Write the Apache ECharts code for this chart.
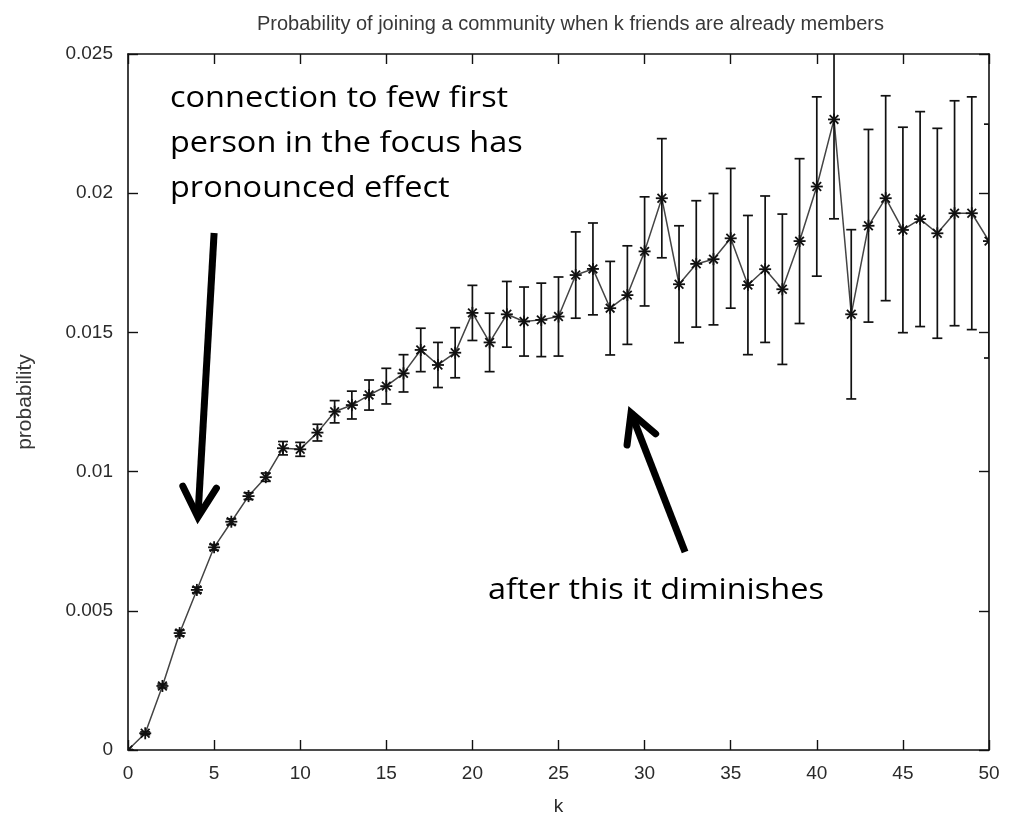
<!DOCTYPE html>
<html>
<head>
<meta charset="utf-8">
<script src="https://cdn.jsdelivr.net/npm/echarts@6/dist/echarts.min.js"></script>
<style>
  html, body { margin: 0; padding: 0; background: #fff; }
  #chart { width: 1014px; height: 817px; }
</style>
</head>
<body>
<div id="chart"></div>
<script>
// Number of friends already in the community
const kValues = [
  0, 1, 2, 3, 4, 5, 6, 7, 8, 9,
  10, 11, 12, 13, 14, 15, 16, 17, 18, 19,
  20, 21, 22, 23, 24, 25, 26, 27, 28, 29,
  30, 31, 32, 33, 34, 35, 36, 37, 38, 39,
  40, 41, 42, 43, 44, 45, 46, 47, 48, 49, 50
];

// Probability of joining for each k
const probability = [
  0, 0.0006, 0.0023, 0.0042, 0.00575, 0.00728, 0.0082, 0.00912, 0.0098, 0.01084,
  0.0108, 0.0114, 0.01215, 0.01239, 0.01275, 0.01307, 0.01353, 0.01437, 0.01383, 0.01427,
  0.0157, 0.01464, 0.01565, 0.01539, 0.01545, 0.01557, 0.01706, 0.01728, 0.01587, 0.01634,
  0.01791, 0.01982, 0.01673, 0.01746, 0.01763, 0.01838, 0.0167, 0.01727, 0.01655, 0.01828,
  0.02024, 0.02265, 0.01565, 0.01883, 0.01982, 0.01868, 0.01907, 0.01856, 0.01928, 0.01928,
  0.01828
];

// Half-width of the error bar around each probability
const errorHalf = [
  0.00002, 0.00005, 0.00007, 0.0001, 0.0001, 0.0001, 0.0001, 0.00012, 0.00015, 0.00024,
  0.00025, 0.0003, 0.0004, 0.0005, 0.00054, 0.00064, 0.00067, 0.00078, 0.00081, 0.0009,
  0.00099, 0.00105, 0.00118, 0.00124, 0.00132, 0.00142, 0.00155, 0.00165, 0.00168, 0.00177,
  0.00196, 0.00214, 0.0021, 0.00227, 0.00236, 0.00251, 0.0025, 0.00263, 0.0027, 0.00296,
  0.00322, 0.00357, 0.00304, 0.00346, 0.00368, 0.00369, 0.00386, 0.00377, 0.00404, 0.00418,
  0.0042
];

// Axis ranges
const xRange = { min: 0, max: 50, interval: 5 };
const yRange = { min: 0, max: 0.025, interval: 0.005 };

// Annotation texts and the data-space anchors of their arrows
const noteTop = ['connection to few first', 'person in the focus has', 'pronounced effect'];
const noteBottom = 'after this it diminishes';
const arrowDownAnchor = { from: [5.0, 0.01857], to: [4.05, 0.00826] };
const arrowUpAnchor = { from: [32.35, 0.00711], to: [29.15, 0.01221] };

const lineData = kValues.map((k, i) => [k, probability[i]]);
const barData = kValues.map((k, i) => [k, probability[i] - errorHalf[i], probability[i] + errorHalf[i], probability[i]]);

const INK = '#111';
const LABEL_INK = '#2a2a2a';
const AXIS_FONT = 'Liberation Sans, Arial, sans-serif';

const chart = echarts.init(document.getElementById('chart'), null, { renderer: 'canvas' });

function axisCommon(showLabel) {
  return {
    axisLine: { show: true, onZero: false, lineStyle: { color: INK, width: 1.6 } },
    axisTick: { show: true, inside: true, length: 10, lineStyle: { color: INK, width: 1.4 } },
    axisLabel: { show: showLabel, color: LABEL_INK, fontSize: 19, fontFamily: AXIS_FONT },
    splitLine: { show: false }
  };
}

const option = {
  animation: false,
  backgroundColor: '#fff',
  title: {
    text: 'Probability of joining a community when k friends are already members',
    left: 252,
    top: 9,
    textStyle: { fontSize: 20, fontWeight: 'normal', color: '#383838', fontFamily: AXIS_FONT }
  },
  grid: { left: 128, right: 25, top: 54, bottom: 67, containLabel: false, outerBoundsMode: 'none' },
  xAxis: [
    Object.assign({
      type: 'value', position: 'bottom',
      min: xRange.min, max: xRange.max, interval: xRange.interval,
      name: 'k', nameLocation: 'middle', nameGap: 47,
      nameTextStyle: { color: LABEL_INK, fontSize: 19, fontFamily: AXIS_FONT }
    }, axisCommon(true), { axisLabel: { show: true, color: LABEL_INK, fontSize: 19, fontFamily: AXIS_FONT, margin: 14 } }),
    Object.assign({
      type: 'value', position: 'top',
      min: xRange.min, max: xRange.max, interval: xRange.interval
    }, axisCommon(false))
  ],
  yAxis: [
    Object.assign({
      type: 'value', position: 'left',
      min: yRange.min, max: yRange.max, interval: yRange.interval,
      name: 'probability', nameLocation: 'middle', nameGap: 92, nameRotate: 90,
      nameTextStyle: { color: '#383838', fontSize: 21, fontFamily: AXIS_FONT }
    }, axisCommon(true), { axisLabel: { show: true, color: LABEL_INK, fontSize: 19, fontFamily: AXIS_FONT, margin: 15 } }),
    Object.assign({
      type: 'value', position: 'right',
      min: yRange.min, max: yRange.max, interval: yRange.interval
    }, axisCommon(false))
  ],
  series: [
    {
      type: 'line',
      data: lineData,
      xAxisIndex: 0, yAxisIndex: 0,
      symbol: 'none',
      lineStyle: { color: '#444', width: 1.5 },
      z: 2
    },
    {
      type: 'custom',
      data: barData,
      xAxisIndex: 0, yAxisIndex: 0,
      clip: true,
      z: 3,
      renderItem: function (params, api) {
        const k = api.value(0);
        const lo = api.coord([k, api.value(1)]);
        const hi = api.coord([k, api.value(2)]);
        const c = api.coord([k, api.value(3)]);
        const cap = 5;
        const m = 6;
        const d = m * 0.72;
        const stroke = { stroke: INK, lineWidth: 1.7 };
        const mark = { stroke: INK, lineWidth: 1.8 };
        return {
          type: 'group',
          children: [
            { type: 'line', shape: { x1: lo[0], y1: lo[1], x2: hi[0], y2: hi[1] }, style: stroke },
            { type: 'line', shape: { x1: lo[0] - cap, y1: lo[1], x2: lo[0] + cap, y2: lo[1] }, style: stroke },
            { type: 'line', shape: { x1: hi[0] - cap, y1: hi[1], x2: hi[0] + cap, y2: hi[1] }, style: stroke },
            { type: 'line', shape: { x1: c[0] - m, y1: c[1], x2: c[0] + m, y2: c[1] }, style: mark },
            { type: 'line', shape: { x1: c[0], y1: c[1] - m, x2: c[0], y2: c[1] + m }, style: mark },
            { type: 'line', shape: { x1: c[0] - d, y1: c[1] - d, x2: c[0] + d, y2: c[1] + d }, style: mark },
            { type: 'line', shape: { x1: c[0] - d, y1: c[1] + d, x2: c[0] + d, y2: c[1] - d }, style: mark }
          ]
        };
      }
    }
  ]
};

chart.setOption(option);

// Arrow with an open V head, placed from data-space anchors
function arrowGraphic(anchor, headLen, headAngleDeg, width) {
  const p0 = chart.convertToPixel({ xAxisIndex: 0, yAxisIndex: 0 }, anchor.from);
  const p1 = chart.convertToPixel({ xAxisIndex: 0, yAxisIndex: 0 }, anchor.to);
  const ang = Math.atan2(p0[1] - p1[1], p0[0] - p1[0]);
  const a = headAngleDeg * Math.PI / 180;
  const w1 = [p1[0] + headLen * Math.cos(ang + a), p1[1] + headLen * Math.sin(ang + a)];
  const w2 = [p1[0] + headLen * Math.cos(ang - a), p1[1] + headLen * Math.sin(ang - a)];
  const tipInset = [p1[0] + 3 * Math.cos(ang), p1[1] + 3 * Math.sin(ang)];
  return [
    { type: 'polyline', shape: { points: [p0, tipInset] }, style: { stroke: '#000', lineWidth: width, lineCap: 'butt', fill: null }, z: 10 },
    { type: 'polyline', shape: { points: [w1, tipInset, w2] }, style: { stroke: '#000', lineWidth: width, lineCap: 'round', lineJoin: 'miter', miterLimit: 10, fill: null }, z: 10 }
  ];
}

// Annotation text: Open Sans, widened slightly to a Calibri-like run length
const NOTE_FONT = '29px "Open Sans", "Noto Sans", sans-serif';
const NOTE_STRETCH = 1.12;

function noteText(text, x, y) {
  return {
    type: 'text', x: x, y: y, z: 10, scaleX: NOTE_STRETCH, scaleY: 1,
    style: { text: text, font: NOTE_FONT, fill: '#000', verticalAlign: 'bottom' }
  };
}

chart.setOption({
  graphic: [].concat(
    arrowGraphic(arrowDownAnchor, 37, 27, 7),
    arrowGraphic(arrowUpAnchor, 35, 26, 7),
    noteTop.map(function (line, i) { return noteText(line, 170, 113 + i * 45); }),
    [noteText(noteBottom, 488, 605)]
  )
});
</script>
</body>
</html>
